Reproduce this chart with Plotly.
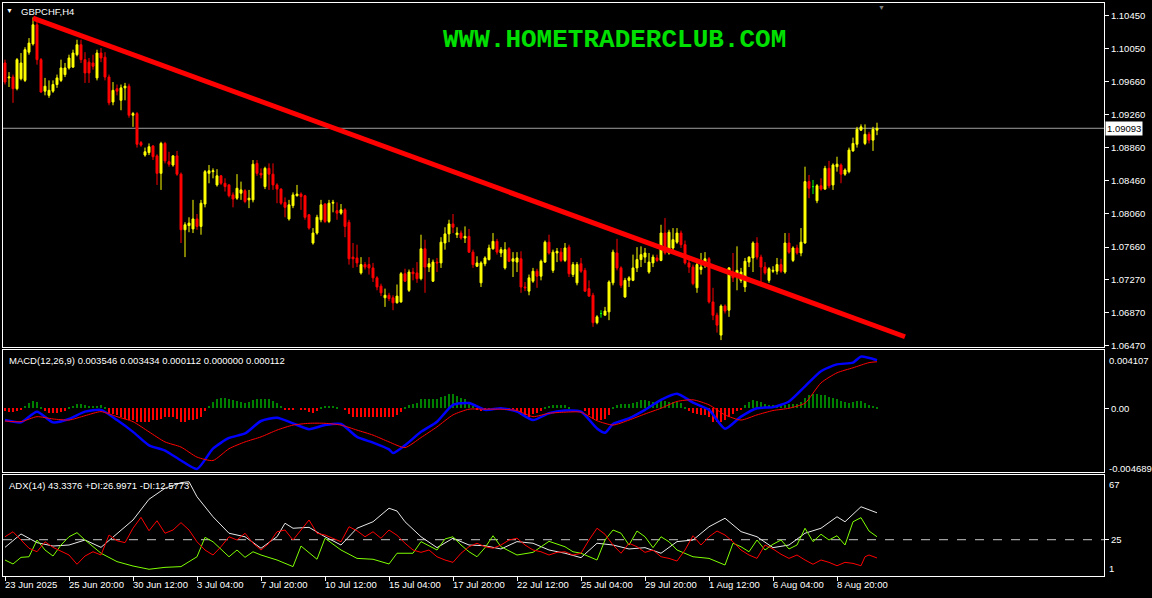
import plotly.graph_objects as go

# ---------------- DATA ----------------
bar_index = list(range(219))

opens = [
    1.0988,1.0970,1.0971,1.0957,1.0969,1.0967,1.1001,1.1011,1.1034,1.0992,
    1.0954,1.0949,1.0954,1.0962,1.0967,1.0974,1.0982,1.0983,1.0998,1.1010,
    1.0992,1.0989,1.0988,1.0970,1.1000,1.0995,1.0971,1.0941,1.0957,1.0943,
    1.0958,1.0960,1.0925,1.0927,1.0892,1.0877,1.0880,1.0888,1.0876,1.0855,
    1.0891,1.0869,1.0865,1.0876,1.0854,1.0787,1.0792,1.0788,1.0800,1.0791,
    1.0818,1.0855,1.0857,1.0841,1.0852,1.0843,1.0841,1.0829,1.0825,1.0831,
    1.0834,1.0823,1.0823,1.0867,1.0855,1.0839,1.0861,1.0854,1.0841,1.0836,
    1.0820,1.0800,1.0816,1.0828,1.0830,1.0828,1.0805,1.0771,1.0783,1.0799,
    1.0818,1.0797,1.0819,1.0810,1.0807,1.0811,1.0796,1.0754,1.0753,1.0735,
    1.0745,1.0745,1.0741,1.0729,1.0719,1.0705,1.0708,1.0705,1.0699,1.0700,
    1.0734,1.0714,1.0736,1.0735,1.0728,1.0764,1.0742,1.0725,1.0748,1.0747,
    1.0771,1.0782,1.0794,1.0781,1.0783,1.0777,1.0779,1.0760,1.0743,1.0723,
    1.0746,1.0751,1.0764,1.0773,1.0759,1.0741,1.0764,1.0749,1.0748,1.0752,
    1.0718,1.0713,1.0725,1.0737,1.0731,1.0748,1.0772,1.0738,1.0759,1.0760,
    1.0750,1.0766,1.0733,1.0723,1.0746,1.0738,1.0716,1.0708,1.0675,1.0686,
    1.0684,1.0688,1.0723,1.0759,1.0741,1.0706,1.0726,1.0726,1.0741,1.0751,
    1.0754,1.0736,1.0747,1.0753,1.0750,1.0783,1.0759,1.0765,1.0772,1.0783,
    1.0769,1.0747,1.0742,1.0717,1.0739,1.0747,1.0752,1.0700,1.0684,1.0660,
    1.0695,1.0690,1.0733,1.0733,1.0726,1.0718,1.0748,1.0753,1.0771,1.0754,
    1.0742,1.0726,1.0737,1.0737,1.0745,1.0736,1.0771,1.0750,1.0765,1.0759,
    1.0771,1.0845,1.0839,1.0822,1.0840,1.0836,1.0861,1.0841,1.0863,1.0865,
    1.0854,1.0857,1.0882,1.0890,1.0907,1.0891,1.0902,1.0895,1.0907]

highs = [
    1.0992,1.0977,1.0974,1.0994,1.1000,1.1007,1.1018,1.1043,1.1040,1.0994,
    1.0970,1.0967,1.0967,1.0974,1.0992,1.0988,1.0998,1.1004,1.1016,1.1016,
    1.1001,1.0994,1.0998,1.1004,1.1006,1.1001,1.0974,1.0965,1.0962,1.0962,
    1.0964,1.0963,1.0929,1.0929,1.0894,1.0886,1.0891,1.0889,1.0878,1.0893,
    1.0893,1.0881,1.0877,1.0882,1.0856,1.0796,1.0802,1.0823,1.0806,1.0823,
    1.0859,1.0865,1.0861,1.0860,1.0853,1.0849,1.0842,1.0832,1.0854,1.0845,
    1.0836,1.0835,1.0871,1.0871,1.0861,1.0863,1.0867,1.0867,1.0843,1.0837,
    1.0826,1.0823,1.0832,1.0841,1.0832,1.0829,1.0806,1.0789,1.0805,1.0823,
    1.0819,1.0823,1.0823,1.0820,1.0818,1.0813,1.0799,1.0771,1.0769,1.0754,
    1.0748,1.0754,1.0747,1.0731,1.0722,1.0716,1.0711,1.0708,1.0721,1.0736,
    1.0740,1.0739,1.0741,1.0748,1.0781,1.0775,1.0753,1.0751,1.0753,1.0778,
    1.0790,1.0799,1.0806,1.0790,1.0786,1.0791,1.0788,1.0763,1.0755,1.0749,
    1.0755,1.0769,1.0783,1.0776,1.0766,1.0772,1.0766,1.0760,1.0760,1.0761,
    1.0724,1.0733,1.0741,1.0740,1.0751,1.0774,1.0781,1.0763,1.0765,1.0765,
    1.0771,1.0769,1.0748,1.0748,1.0753,1.0741,1.0726,1.0711,1.0684,1.0690,
    1.0694,1.0726,1.0763,1.0776,1.0743,1.0729,1.0731,1.0757,1.0766,1.0767,
    1.0765,1.0759,1.0757,1.0757,1.0793,1.0801,1.0787,1.0789,1.0789,1.0786,
    1.0774,1.0751,1.0745,1.0747,1.0759,1.0760,1.0754,1.0717,1.0687,1.0697,
    1.0697,1.0742,1.0759,1.0767,1.0741,1.0753,1.0755,1.0773,1.0778,1.0757,
    1.0748,1.0742,1.0743,1.0753,1.0752,1.0783,1.0783,1.0767,1.0769,1.0789,
    1.0863,1.0853,1.0847,1.0842,1.0849,1.0864,1.0870,1.0867,1.0875,1.0867,
    1.0861,1.0886,1.0898,1.0911,1.0914,1.0914,1.0905,1.0911,1.0916]

lows = [
    1.0962,1.0959,1.0940,1.0955,1.0967,1.0965,1.0998,1.1009,1.0986,1.0952,
    1.0949,1.0946,1.0952,1.0958,1.0965,1.0971,1.0980,1.0982,1.0996,1.0988,
    1.0964,1.0964,1.0980,1.0967,1.0989,1.0967,1.0937,1.0937,1.0949,1.0931,
    1.0943,1.0922,1.0911,1.0886,1.0887,1.0875,1.0877,1.0871,1.0841,1.0835,
    1.0867,1.0863,1.0863,1.0852,1.0771,1.0754,1.0784,1.0783,1.0787,1.0781,
    1.0814,1.0843,1.0849,1.0839,1.0841,1.0833,1.0826,1.0814,1.0823,1.0823,
    1.0819,1.0813,1.0820,1.0852,1.0849,1.0836,1.0835,1.0835,1.0819,1.0817,
    1.0802,1.0798,1.0813,1.0827,1.0811,1.0799,1.0787,1.0769,1.0781,1.0796,
    1.0795,1.0795,1.0808,1.0799,1.0805,1.0778,1.0745,1.0741,1.0742,1.0733,
    1.0739,1.0733,1.0724,1.0714,1.0707,1.0694,1.0701,1.0690,1.0698,1.0699,
    1.0724,1.0712,1.0726,1.0723,1.0726,1.0711,1.0736,1.0724,1.0736,1.0741,
    1.0763,1.0772,1.0783,1.0777,1.0775,1.0771,1.0759,1.0741,1.0742,1.0718,
    1.0743,1.0750,1.0763,1.0757,1.0754,1.0739,1.0748,1.0730,1.0736,1.0711,
    1.0713,1.0708,1.0723,1.0717,1.0726,1.0747,1.0757,1.0735,1.0748,1.0748,
    1.0748,1.0730,1.0730,1.0720,1.0735,1.0712,1.0706,1.0670,1.0673,1.0681,
    1.0684,1.0678,1.0720,1.0738,1.0717,1.0705,1.0718,1.0725,1.0736,1.0742,
    1.0747,1.0734,1.0742,1.0748,1.0749,1.0757,1.0757,1.0759,1.0770,1.0765,
    1.0745,1.0735,1.0720,1.0711,1.0733,1.0741,1.0698,1.0678,1.0663,1.0654,
    1.0686,1.0682,1.0724,1.0714,1.0723,1.0712,1.0742,1.0736,1.0751,1.0724,
    1.0733,1.0723,1.0735,1.0733,1.0735,1.0734,1.0758,1.0748,1.0757,1.0755,
    1.0770,1.0825,1.0830,1.0819,1.0834,1.0835,1.0837,1.0835,1.0857,1.0843,
    1.0852,1.0855,1.0881,1.0886,1.0906,1.0889,1.0891,1.0882,1.0901]

closes = [
    1.0965,1.0971,1.0957,1.0992,1.0988,1.1004,1.1012,1.1034,1.0992,1.0953,
    1.0960,1.0955,1.0962,1.0970,1.0982,1.0982,1.0994,1.1000,1.1010,1.0992,
    1.0976,1.0976,1.0984,1.1000,1.0994,1.0971,1.0940,1.0955,1.0954,1.0958,
    1.0960,1.0925,1.0927,1.0890,1.0889,1.0881,1.0887,1.0875,1.0855,1.0891,
    1.0870,1.0866,1.0876,1.0854,1.0787,1.0793,1.0795,1.0800,1.0791,1.0819,
    1.0857,1.0858,1.0858,1.0852,1.0843,1.0839,1.0828,1.0824,1.0837,1.0835,
    1.0821,1.0825,1.0866,1.0855,1.0853,1.0861,1.0854,1.0841,1.0836,1.0819,
    1.0814,1.0817,1.0829,1.0830,1.0827,1.0802,1.0789,1.0783,1.0802,1.0817,
    1.0797,1.0819,1.0820,1.0807,1.0811,1.0791,1.0752,1.0752,1.0747,1.0745,
    1.0742,1.0741,1.0729,1.0718,1.0711,1.0708,1.0704,1.0699,1.0707,1.0734,
    1.0725,1.0736,1.0734,1.0728,1.0764,1.0742,1.0746,1.0748,1.0747,1.0772,
    1.0782,1.0794,1.0790,1.0783,1.0777,1.0779,1.0760,1.0745,1.0747,1.0747,
    1.0753,1.0765,1.0773,1.0760,1.0763,1.0763,1.0749,1.0752,1.0753,1.0718,
    1.0717,1.0729,1.0737,1.0731,1.0749,1.0772,1.0759,1.0760,1.0761,1.0750,
    1.0765,1.0734,1.0745,1.0745,1.0737,1.0713,1.0707,1.0675,1.0682,1.0686,
    1.0689,1.0724,1.0760,1.0741,1.0720,1.0726,1.0729,1.0741,1.0751,1.0757,
    1.0759,1.0748,1.0754,1.0750,1.0783,1.0759,1.0784,1.0775,1.0783,1.0769,
    1.0747,1.0742,1.0722,1.0745,1.0742,1.0752,1.0700,1.0684,1.0672,1.0695,
    1.0689,1.0741,1.0729,1.0738,1.0736,1.0749,1.0754,1.0771,1.0754,1.0742,
    1.0735,1.0740,1.0738,1.0745,1.0737,1.0771,1.0760,1.0765,1.0759,1.0772,
    1.0845,1.0837,1.0839,1.0840,1.0836,1.0861,1.0840,1.0865,1.0866,1.0854,
    1.0859,1.0883,1.0891,1.0908,1.0911,1.0902,1.0895,1.0908,1.09093]

trend_index = [7, 225]
trend_price = [1.1042, 1.0658]
last_price = 1.09093

price_ticks = [1.10450, 1.10050, 1.09660, 1.09260, 1.08860, 1.08460,
               1.08060, 1.07660, 1.07270, 1.06870, 1.06470]

tick_index = [0, 16, 32, 48, 64, 80, 96, 112, 128, 144, 160, 176, 192, 208]
tick_labels = ["23 Jun 2025", "25 Jun 20:00", "30 Jun 12:00", "3 Jul 04:00",
               "7 Jul 20:00", "10 Jul 12:00", "15 Jul 04:00", "17 Jul 20:00",
               "22 Jul 12:00", "25 Jul 04:00", "29 Jul 20:00", "1 Aug 12:00",
               "6 Aug 04:00", "8 Aug 20:00"]

# MACD histogram (one value per bar)
macd_hist = [
    -0.00022,-0.00030,-0.00030,-0.00022,-0.00007,
    0.00015,0.00037,0.00052,0.00045,0.00007,
    -0.00022,-0.00037,-0.00037,-0.00037,-0.00030,-0.00022,
    0.00007,0.00015,0.00030,0.00030,0.00022,0.00015,0.00015,0.00015,0.00022,0.00007,
    -0.00037,-0.00045,-0.00052,-0.00060,-0.00075,-0.00082,-0.00089,-0.00097,-0.00104,-0.00104,
    -0.00097,-0.00089,-0.00082,-0.00075,-0.00067,-0.00060,-0.00060,-0.00075,-0.00104,-0.00104,
    -0.00089,-0.00082,-0.00075,-0.00060,-0.00022,
    0.00015,0.00045,0.00067,0.00075,0.00075,0.00067,0.00060,0.00052,0.00045,0.00037,
    0.00045,0.00060,0.00067,0.00067,0.00067,0.00067,0.00052,0.00037,0.00015,
    -0.00007,-0.00007,-0.00007,0.0,-0.00007,
    -0.00015,-0.00030,-0.00037,-0.00022,
    0.00007,0.00015,0.00015,0.00015,0.00007,0.0,
    -0.00015,-0.00045,-0.00060,-0.00067,-0.00067,-0.00067,-0.00067,-0.00060,-0.00067,-0.00067,
    -0.00067,-0.00067,
    -0.00060,-0.00052,-0.00030,
    0.00007,0.00022,0.00030,0.00037,0.00067,0.00067,0.00067,0.00067,0.00067,0.00082,
    0.00089,0.00104,0.00104,0.00089,0.00075,0.00067,0.00045,0.00015,
    -0.00015,-0.00022,-0.00015,-0.00007,0.0,0.0,0.0,0.0,
    -0.00007,-0.00015,-0.00015,-0.00052,-0.00052,-0.00060,-0.00045,-0.00037,-0.00022,
    0.00007,0.00015,0.00022,0.00022,0.00022,0.00022,0.00007,0.0,0.0,0.0,
    -0.00022,-0.00052,-0.00075,-0.00089,-0.00089,-0.00075,-0.00052,
    0.00007,0.00022,0.00030,0.00030,0.00030,0.00037,0.00045,0.00060,0.00060,0.00052,
    0.00045,0.00045,0.00052,0.00052,0.00045,0.00045,0.00045,0.00037,0.00007,
    -0.00022,-0.00037,-0.00045,-0.00052,-0.00052,-0.00067,-0.00104,-0.00104,-0.00097,-0.00082,
    -0.00060,-0.00045,-0.00022,-0.00007,
    0.00022,0.00045,0.00060,0.00052,0.00045,0.00030,0.00022,0.00022,0.00022,0.00015,
    0.00022,0.00030,0.00030,0.00030,0.00045,0.00075,0.00097,0.00104,0.00104,0.00097,
    0.00097,0.00082,0.00075,0.00067,0.00052,0.00045,0.00037,0.00045,0.00052,0.00052,
    0.00037,0.00022,0.00015,0.00011]

macd_idx = [0,4,8,12,16,20,24,28,32,36,40,44,48,52,56,60,64,68,72,76,80,84,88,92,96,97,
            100,104,108,112,116,120,124,128,132,136,140,144,148,150,152,156,160,164,168,
            172,176,180,184,188,192,196,200,204,208,212,214,218]
macd_main = [-0.00086,-0.00103,-0.00024,-0.00103,-0.00078,-0.00024,-0.00011,-0.00086,-0.00173,-0.00272,
             -0.00311,-0.00384,-0.00446,-0.00297,-0.00218,-0.00185,-0.00093,-0.00069,-0.00110,-0.00153,
             -0.00123,-0.00115,-0.00210,-0.00252,-0.00302,-0.00329,-0.00272,-0.00173,-0.00098,0.00026,
             0.00039,-0.00011,0.00001,-0.00024,-0.00086,-0.00036,-0.00016,-0.00024,-0.00148,-0.00180,
             -0.00115,-0.00073,-0.00011,0.00063,0.00108,0.00043,-0.00011,-0.00150,-0.00061,0.00001,
             0.00009,0.00051,0.00162,0.00274,0.00324,0.00337,0.00381,0.003546]

signal_idx = [0,4,8,12,16,20,24,28,32,36,40,44,48,52,56,60,64,68,72,76,80,84,88,92,96,
              100,104,108,112,116,120,124,128,132,136,140,144,148,152,156,160,164,168,172,176,
              180,184,188,192,196,200,204,208,212,216,218]
signal_vals = [-0.00093,-0.00098,-0.00061,-0.00078,-0.00086,-0.00054,-0.00024,-0.00061,-0.00098,-0.00173,
               -0.00247,-0.00285,-0.00359,-0.00384,-0.00297,-0.00247,-0.00210,-0.00160,-0.00123,-0.00110,
               -0.00110,-0.00123,-0.00160,-0.00197,-0.00247,
               -0.00289,-0.00215,-0.00136,-0.00048,-0.00006,-0.00006,-0.00006,-0.00016,-0.00061,-0.00036,
               -0.00028,-0.00028,-0.00091,-0.00123,-0.00086,-0.00041,0.00001,0.00051,0.00063,0.00026,
               -0.00048,-0.00086,-0.00048,-0.00016,0.00001,0.00039,0.00188,0.00262,0.00299,0.00337,
               0.003434]

adx_idx = [0,4,8,12,16,20,24,28,32,36,40,44,46,48,52,56,60,64,68,70,72,76,80,84,88,92,96,98,
           100,104,108,112,116,120,124,128,132,136,140,144,148,152,156,160,164,168,172,176,
           180,184,188,192,196,200,204,208,210,214,218]
adx_vals = [19.8,28.9,23.0,20.7,21.4,24.8,19.8,29.4,38.4,52.5,
            60.0,63.8,64.4,54.2,40.6,29.4,27.0,19.2,27.0,36.2,
            32.8,33.4,27.0,21.4,32.8,37.2,46.4,44.5,37.2,27.0,
            19.6,26.0,21.4,20.9,18.7,23.7,22.6,18.0,15.8,12.8,
            22.6,21.4,18.7,19.6,15.8,23.7,24.8,33.8,39.6,30.5,
            27.0,19.6,21.4,29.4,32.8,40.6,37.2,47.4,43.3]

pdi_idx = [0,2,4,6,8,10,12,14,16,18,20,24,28,32,36,40,44,48,50,52,
           56,58,60,62,64,68,72,74,78,80,84,88,92,96,98,102,104,108,110,112,
           114,116,118,120,122,124,128,132,136,140,142,144,148,150,152,154,156,158,160,162,
           164,166,168,172,176,180,182,184,186,188,190,192,194,196,198,200,202,204,206,208,
           210,212,214,216,218]
pdi_vals = [11.2,8.5,13.0,13.4,24.8,18.0,13.9,21.4,27.0,29.8,
            24.8,15.8,10.1,7.1,4.9,6.2,6.7,13.4,26.6,23.6,
            13.4,18.0,13.0,16.8,14.6,11.2,6.7,20.7,11.7,26.0,
            18.0,12.3,11.7,8.5,15.8,15.8,23.7,18.0,25.5,27.0,
            21.4,16.8,13.4,19.6,27.7,20.2,14.6,16.4,23.9,20.2,
            16.8,15.8,11.2,24.8,31.6,29.4,21.4,30.9,27.0,19.6,
            27.0,23.6,18.0,13.4,12.3,7.8,22.6,20.2,16.8,24.8,
            18.0,21.9,24.8,18.7,21.4,32.8,23.7,28.7,24.8,27.7,
            21.4,37.2,40.0,30.9,27.0]

mdi_idx = [0,2,4,6,8,10,12,16,18,20,
           22,24,26,28,30,32,34,36,38,40,42,44,46,48,50,52,54,56,58,60,
           62,64,66,68,70,72,74,76,78,80,
           84,86,88,90,92,94,96,98,100,102,104,106,108,110,112,114,116,118,120,122,
           124,126,128,130,132,134,136,138,140,142,144,146,148,150,152,154,156,158,160,162,
           164,166,168,170,172,174,176,178,180,182,184,186,188,190,192,194,196,198,200,202,
           204,206,208,210,212,214,215,216,218]
mdi_vals = [27.0,30.4,24.8,19.2,16.8,23.6,19.8,14.6,8.3,13.9,
            16.8,14.6,28.2,24.3,23.0,32.8,40.2,31.1,37.9,29.4,
            31.6,36.6,31.6,23.6,18.0,14.6,20.2,27.0,24.8,29.4,
            22.6,18.0,22.6,30.4,31.6,24.8,31.6,38.4,29.4,28.2,
            23.6,33.8,31.1,27.0,30.4,26.0,31.6,28.0,22.6,18.0,
            16.4,18.0,13.4,11.2,9.6,15.8,20.2,22.6,20.2,19.2,
            21.4,24.8,26.0,21.4,18.0,16.8,14.6,16.4,16.8,14.6,
            15.8,24.8,32.8,28.7,21.4,15.8,22.6,20.2,16.4,18.0,
            13.4,12.3,10.5,18.0,27.7,21.4,27.0,30.9,28.2,23.6,
            18.0,14.6,12.3,21.4,18.7,15.1,12.3,14.6,11.2,8.3,
            11.2,9.6,7.3,9.6,8.9,7.3,13.4,14.6,12.6]

adx_level = 25

# ---------------- LAYOUT GEOMETRY (pixels) ----------------
W, H = 1152, 598
PL, PR, PT, PB = 3, 1104, 3, 576
PH = PB - PT


def ydom(top_px, bot_px):
    return [(PB - bot_px) / PH, (PB - top_px) / PH]


def px_x(px):
    return (px - PL) / (PR - PL)


def px_y(py):
    return (PB - py) / PH


FONT = "Liberation Sans"
WHITE = "#ffffff"

# split candles into regular and doji
reg_o, reg_h, reg_l, reg_c = [], [], [], []
dj_o, dj_h, dj_l, dj_c = [], [], [], []
for o, h, l, c in zip(opens, highs, lows, closes):
    if o == c:
        dj_o.append(o); dj_h.append(h); dj_l.append(l); dj_c.append(c)
        reg_o.append(None); reg_h.append(None); reg_l.append(None); reg_c.append(None)
    else:
        reg_o.append(o); reg_h.append(h); reg_l.append(l); reg_c.append(c)
        dj_o.append(None); dj_h.append(None); dj_l.append(None); dj_c.append(None)

fig = go.Figure()

fig.add_trace(go.Candlestick(
    x=bar_index, open=reg_o, high=reg_h, low=reg_l, close=reg_c,
    increasing=dict(line=dict(color="#ffff00", width=1), fillcolor="#ffff00"),
    decreasing=dict(line=dict(color="#ff0000", width=1), fillcolor="#ff0000"),
    whiskerwidth=0, xaxis="x", yaxis="y", hoverinfo="skip"))

fig.add_trace(go.Candlestick(
    x=bar_index, open=dj_o, high=dj_h, low=dj_l, close=dj_c,
    increasing=dict(line=dict(color="#00ff00", width=1), fillcolor="#00ff00"),
    decreasing=dict(line=dict(color="#00ff00", width=1), fillcolor="#00ff00"),
    whiskerwidth=0, xaxis="x", yaxis="y", hoverinfo="skip"))

fig.add_trace(go.Scatter(
    x=trend_index, y=trend_price, mode="lines",
    line=dict(color="#ff0000", width=5), xaxis="x", yaxis="y", hoverinfo="skip"))

# MACD
hist_colors = ["#008000" if v >= 0 else "#ff0000" for v in macd_hist]
fig.add_trace(go.Bar(x=bar_index, y=macd_hist, marker=dict(color=hist_colors, line=dict(width=0)),
                     width=0.72, xaxis="x2", yaxis="y2", hoverinfo="skip"))
fig.add_trace(go.Scatter(x=macd_idx, y=macd_main, mode="lines",
                         line=dict(color="#0000ff", width=2.5, shape="spline", smoothing=0.6),
                         xaxis="x2", yaxis="y2", hoverinfo="skip"))
fig.add_trace(go.Scatter(x=signal_idx, y=signal_vals, mode="lines",
                         line=dict(color="#ff0000", width=1, shape="spline", smoothing=0.6),
                         xaxis="x2", yaxis="y2", hoverinfo="skip"))

# ADX
fig.add_trace(go.Scatter(x=adx_idx, y=adx_vals, mode="lines",
                         line=dict(color="#e8e8e8", width=1), xaxis="x3", yaxis="y3", hoverinfo="skip"))
fig.add_trace(go.Scatter(x=pdi_idx, y=pdi_vals, mode="lines",
                         line=dict(color="#7fff00", width=1), xaxis="x3", yaxis="y3", hoverinfo="skip"))
fig.add_trace(go.Scatter(x=mdi_idx, y=mdi_vals, mode="lines",
                         line=dict(color="#ff0000", width=1), xaxis="x3", yaxis="y3", hoverinfo="skip"))

xr = [-0.5, (PR - 5) / 4.0]
axis_common = dict(showgrid=False, zeroline=False, showline=True, linecolor=WHITE,
                   linewidth=1, mirror=True)

main_range = [1.10639 - 0.00012053 * 347, 1.10639 - 0.00012053 * 3]

fig.update_layout(
    width=W, height=H,
    margin=dict(l=PL, r=W - PR, t=PT, b=H - PB),
    paper_bgcolor="#000000", plot_bgcolor="#000000",
    showlegend=False, hovermode=False, bargap=0,
    font=dict(family=FONT, size=9.5, color=WHITE),
    xaxis=dict(domain=[0, 1], range=xr, anchor="y", showticklabels=False,
               rangeslider=dict(visible=False), ticks="", **axis_common),
    xaxis2=dict(domain=[0, 1], range=xr, anchor="y2", matches="x", showticklabels=False,
                ticks="", **axis_common),
    xaxis3=dict(domain=[0, 1], range=xr, anchor="y3", matches="x", showticklabels=False,
                tickvals=tick_index, ticks="outside", ticklen=4, tickcolor=WHITE,
                **axis_common),
    yaxis=dict(domain=ydom(3, 347), range=main_range, side="right",
               tickvals=price_ticks, ticktext=[f"{v:.5f}" for v in price_ticks],
               ticks="outside", ticklen=4, tickcolor=WHITE,
               tickfont=dict(family=FONT, size=9.5, color=WHITE), **axis_common),
    yaxis2=dict(domain=ydom(350, 471.5), range=[-0.00465, 0.00430], side="right",
                tickvals=[0], ticktext=["0.00"], ticks="outside", ticklen=4, tickcolor=WHITE,
                tickfont=dict(family=FONT, size=9.5, color=WHITE), **axis_common),
    yaxis3=dict(domain=ydom(475, 576), range=[0.32, 69.0], side="right",
                tickvals=[adx_level], ticktext=[str(adx_level)], ticks="outside", ticklen=4,
                tickcolor=WHITE, tickfont=dict(family=FONT, size=9.5, color=WHITE),
                **axis_common),
)

shapes = [
    dict(type="line", xref="x domain", yref="y", x0=0, x1=1, y0=last_price, y1=last_price,
         line=dict(color="#a0a0a0", width=1), layer="below"),
    dict(type="line", xref="x3 domain", yref="y3", x0=0, x1=1, y0=adx_level, y1=adx_level,
         line=dict(color="#c8c8c8", width=1, dash="dash"), layer="below"),
]
fig.update_layout(shapes=shapes)

ann = []
ann.append(dict(text="▼", xref="paper", yref="paper", x=px_x(9), y=px_y(11),
                xanchor="center", yanchor="middle", showarrow=False,
                font=dict(size=7, color=WHITE)))
ann.append(dict(text="GBPCHF,H4", xref="paper", yref="paper", x=px_x(19), y=px_y(12),
                xanchor="left", yanchor="middle", showarrow=False,
                font=dict(family=FONT, size=9.5, color=WHITE)))
ann.append(dict(text="▼", xref="paper", yref="paper", x=px_x(881), y=px_y(7),
                xanchor="center", yanchor="middle", showarrow=False,
                font=dict(size=7, color="#808080")))
ann.append(dict(text="<b>WWW.HOMETRADERCLUB.COM</b>", xref="paper", yref="paper",
                x=px_x(614), y=px_y(40), xanchor="center", yanchor="middle", showarrow=False,
                font=dict(family="Liberation Mono", size=26, color="#00e000")))
ann.append(dict(text="MACD(12,26,9) 0.003546 0.003434 0.000112 0.000000 0.000112",
                xref="paper", yref="paper", x=px_x(7), y=px_y(360),
                xanchor="left", yanchor="middle", showarrow=False,
                font=dict(family=FONT, size=9.5, color=WHITE)))
ann.append(dict(text="ADX(14) 43.3376 +DI:26.9971 -DI:12.5773",
                xref="paper", yref="paper", x=px_x(7), y=px_y(486),
                xanchor="left", yanchor="middle", showarrow=False,
                font=dict(family=FONT, size=9.5, color=WHITE)))
# current price box
ann.append(dict(text=f"{last_price:.5f}", xref="paper", yref="y", x=1, y=last_price,
                xanchor="left", yanchor="middle", xshift=1, showarrow=False,
                bgcolor="#ffffff", borderpad=1,
                font=dict(family=FONT, size=9.5, color="#000000")))
# indicator scale labels
for txt, py in [("0.004107", 360), ("-0.004689", 468), ("67", 484), ("1", 568)]:
    ann.append(dict(text=txt, xref="paper", yref="paper", x=1, y=px_y(py),
                    xanchor="left", yanchor="middle", xshift=3, showarrow=False,
                    font=dict(family=FONT, size=9.5, color=WHITE)))
# time axis labels
for ti, tl in zip(tick_index, tick_labels):
    ann.append(dict(text=tl, xref="x3", yref="paper", x=ti, y=px_y(584),
                    xanchor="left", yanchor="middle", xshift=-2, showarrow=False,
                    font=dict(family=FONT, size=9.5, color=WHITE)))
fig.update_layout(annotations=ann)

fig.write_html("out.html", config={"displayModeBar": False},
               post_script="document.body.style.margin='0';document.body.style.background='#000';")
